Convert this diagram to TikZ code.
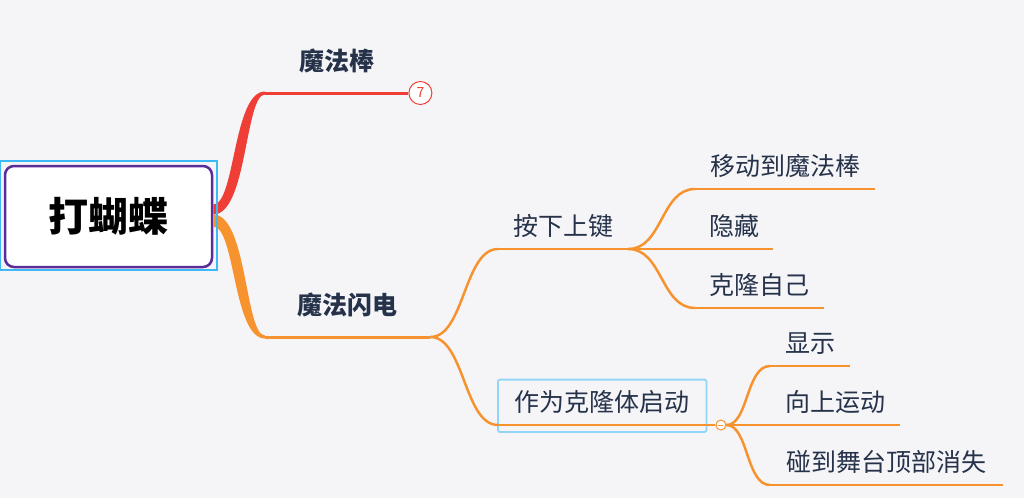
\documentclass[tikz,border=0pt]{standalone}
\usepackage{fontspec}
\setmainfont{Noto Sans CJK SC}
\usetikzlibrary{positioning}
\definecolor{bg}{HTML}{F5F5F8}
\definecolor{ink}{HTML}{25324A}
\definecolor{mred}{HTML}{EE3E36}
\definecolor{morange}{HTML}{F7932F}
\definecolor{sel}{HTML}{92D4F7}
\definecolor{selroot}{HTML}{3DB9F6}
\definecolor{rootline}{HTML}{5A2D98}

\begin{document}
\begin{tikzpicture}[x=1pt,y=-1pt,
        root/.style={draw=rootline,line width=2.5pt,fill=white,rounded corners=9pt,minimum width=207pt,minimum height=101pt,font=\bfseries\fontsize{40}{40}\selectfont},
        lvA/.style={font=\bfseries\fontsize{25}{25}\selectfont,text=ink,minimum width=#1,inner xsep=0pt,inner ysep=19.5pt,text height=22pt,text depth=3pt,anchor=south west},
        lvB/.style={lvA=#1,font=\fontsize{25}{25}\selectfont,inner ysep=10pt},
        link/.style={draw=morange,line width=2.5pt},
        dot/.style={circle,draw=morange,fill=white,line width=1pt,minimum size=10pt,inner sep=0pt}]
   \useasboundingbox (0,0) rectangle (1024,498);
   \fill[bg] (0,0) rectangle (1024,498);
   % main topics
   \node[root] (R) at (108.5,216.5) {打蝴蝶};
   \node[lvA=143] (mb) at (265,93) {魔法棒};
   \node[lvA=165] (md) at (265,337) {魔法闪电};
   \node[circle,draw=mred,fill=white,line width=1pt,minimum size=23pt,inner sep=0pt,text=mred,font=\fontsize{14}{14}\selectfont,right=0pt of mb.south east] (n7) {7};
   % sub topics
   \node[lvB=130] (ax) at (498,249) {按下上键};
   \node[lvB=180] (y1) at (695,189) {移动到魔法棒};
   \node[lvB=78] (y2) at (695,249) {隐藏};
   \node[lvB=129] (y3) at (695,308) {克隆自己};
   \node[lvB=208] (zw) at (498,425) {作为克隆体启动};
   \node[lvB=80] (x1) at (770,366) {显示};
   \node[lvB=130] (x2) at (770,425) {向上运动};
   \node[lvB=233] (x3) at (770,485) {碰到舞台顶部消失};
   \draw[sel,line width=1.8pt,rounded corners=2pt] (zw.north west) rectangle ([yshift=-7pt]zw.south east);
   % branches from the root
   \fill[mred] ([yshift=12pt]R.east) .. controls +(22,0) and +(-32,0) .. ([yshift=1.5pt]mb.south west)
      -- ([yshift=-1.5pt]mb.south west) .. controls +(-20,0) and +(34,0) .. ([yshift=2pt]R.east) -- cycle;
   \fill[morange] ([yshift=2pt]R.east) .. controls +(34,0) and +(-20,0) .. ([yshift=1.5pt]md.south west)
      -- ([yshift=-1.5pt]md.south west) .. controls +(-32,0) and +(22,0) .. ([yshift=-10pt]R.east) -- cycle;
   \draw[selroot,line width=2pt] ([shift={(-3.5pt,4pt)}]R.north west) rectangle ([shift={(4pt,-2pt)}]R.south east);
   \draw[mred,line width=3pt] (mb.south west) -- (n7.west);
   \draw[morange,line width=3pt] (md.south west) -- (md.south east);
   % underlines
   \foreach \n in {ax,y1,y2,y3,x1,x2,x3}
      \draw[link] (\n.south west) -- (\n.south east);
   \draw[link] (zw.south west) -- (zw.south east);
   % connectors
   \draw[link] (md.south east) .. controls +(34,0) and +(-34,0) .. (ax.south west);
   \draw[link] (md.south east) .. controls +(34,0) and +(-34,0) .. (zw.south west);
   \draw[link] (ax.south east) .. controls +(34,0) and +(-34,0) .. (y1.south west);
   \draw[link] (ax.south east) -- (y2.south west);
   \draw[link] (ax.south east) .. controls +(34,0) and +(-34,0) .. (y3.south west);
   \node[dot,right=9pt of zw.south east] (cz) {};
   \draw[link] (zw.south east) -- (cz.west);
   \draw[link] (cz.east) .. controls +(22,0) and +(-24,0) .. (x1.south west);
   \draw[link] (cz.east) -- (x2.south west);
   \draw[link] (cz.east) .. controls +(22,0) and +(-24,0) .. (x3.south west);
   \draw[morange,line width=1pt] ([xshift=-2.5pt]cz.center) -- ([xshift=2.5pt]cz.center);
\end{tikzpicture}
\end{document}
